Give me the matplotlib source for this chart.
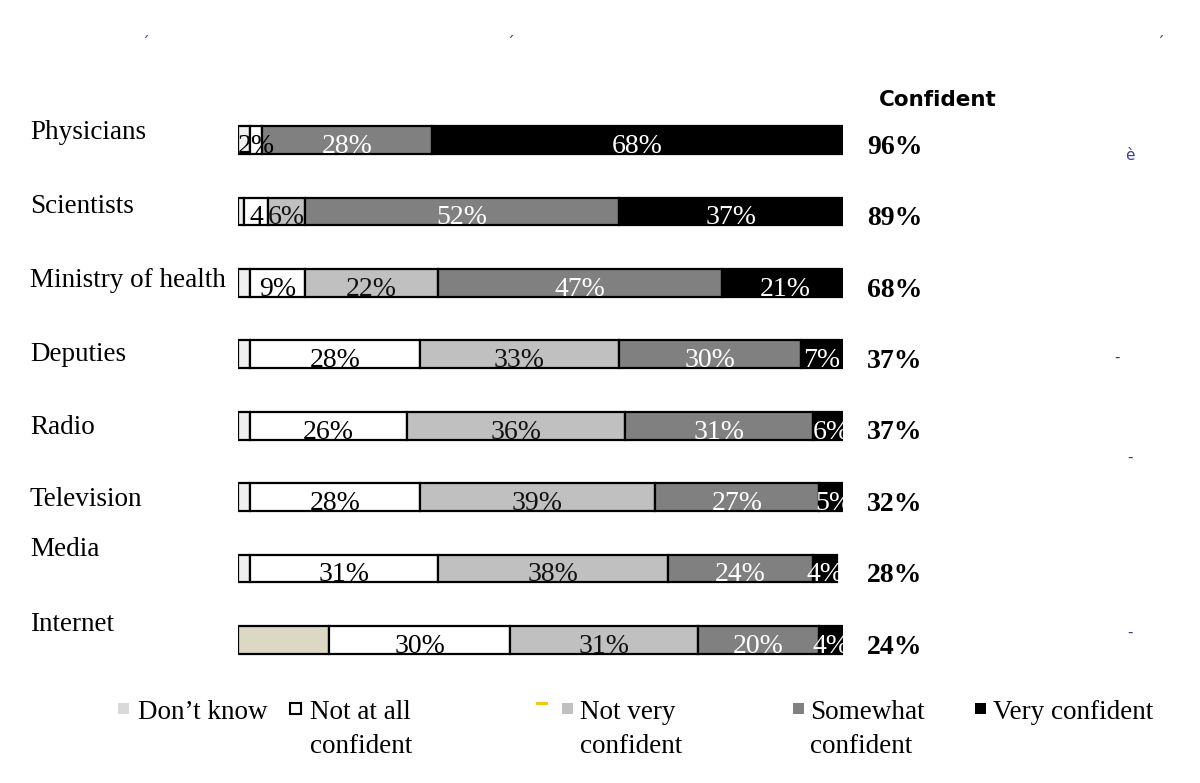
import matplotlib
matplotlib.use("Agg")
import matplotlib.pyplot as plt
from matplotlib.patches import Rectangle
from matplotlib.transforms import blended_transform_factory

categories = ["Physicians", "Scientists", "Ministry of health", "Deputies",
              "Radio", "Television", "Media", "Internet"]
dont_know = [2, 1, 2, 2, 2, 2, 2, 15]
not_at_all = [2, 4, 9, 28, 26, 28, 31, 30]
not_very = [0, 6, 22, 33, 36, 39, 38, 31]
somewhat = [28, 52, 47, 30, 31, 27, 24, 20]
very = [68, 37, 21, 7, 6, 5, 4, 4]
confident = [96, 89, 68, 37, 37, 32, 28, 24]
series_names = ["Don\u2019t know", "Not at all\nconfident", "Not very\nconfident",
                "Somewhat\nconfident", "Very confident"]

# label text for segments (Don't know not labelled)
seg_labels = [[f"{v}%" if v > 0 else "" for v in s] for s in (not_at_all, not_very, somewhat, very)]
seg_labels[0][1] = "4"

fill_colors = ["#efefef", "#ffffff", "#c0c0c0", "#808080", "#000000"]
text_colors = ["#000000", "#111111", "#ffffff", "#ffffff"]
internet_dk_color = "#ddd8c4"

plt.rcParams["font.family"] = ["Liberation Serif", "DejaVu Serif"]
fig = plt.figure(figsize=(12, 7.83), dpi=100)
ax = fig.add_axes([238 / 1200, 1 - 675.7 / 783, 605 / 1200, 571.4 / 783])
ax.set_xlim(0, 100)
ax.set_ylim(7.5, -0.5)
ax.axis("off")

bar_h = 0.39
series = [dont_know, not_at_all, not_very, somewhat, very]
for i, cat in enumerate(categories):
    left = 0
    clip = Rectangle((-5, i - bar_h / 2), 120, bar_h, transform=ax.transData)
    for k, s in enumerate(series):
        v = s[i]
        color = fill_colors[k]
        if k == 0 and cat == "Internet":
            color = internet_dk_color
        if v > 0:
            ax.barh(i, v, left=left, height=bar_h, color=color,
                    edgecolor="black", linewidth=1.6)
            if k > 0:
                lab = seg_labels[k - 1][i]
                if lab:
                    t = ax.text(left + v / 2, i + 0.09, lab, ha="center", va="center",
                                fontsize=20, color=text_colors[k - 1])
                    t.set_clip_path(clip)
        left += v

# category labels
label_dy = [-0.1, -0.07, -0.03, 0.0, 0.03, 0.03, -0.27, -0.22]
tr = blended_transform_factory(fig.transFigure, ax.transData)
for i, cat in enumerate(categories):
    ax.text(30 / 1200, i + label_dy[i], cat, transform=tr, ha="left", va="center",
            fontsize=19.5, color="black")

# confident totals
for i, c in enumerate(confident):
    ax.text(867 / 1200, i + 0.1, f"{c}%", transform=tr, ha="left", va="center",
            fontsize=20, fontweight="bold", color="black")

fig.text(879 / 1200, 1 - 100 / 783, "Confident", family="DejaVu Sans",
         fontweight="bold", fontsize=15.5, ha="left", va="center")

# legend (manual)
leg_marker_x = [118, 290, 562, 793, 975]
leg_text_x = [138, 310, 580, 810, 993]
leg_colors = ["#d9d9d9", "#ffffff", "#c0c0c0", "#808080", "#000000"]
leg_edges = ["none", "black", "none", "none", "none"]
for k, name in enumerate(series_names):
    mx = leg_marker_x[k] / 1200
    my = 1 - 708 / 783
    fig.patches.append(Rectangle((mx, my - 0.5 * 11 / 783), 11 / 1200, 11 / 783,
                                 transform=fig.transFigure, facecolor=leg_colors[k],
                                 edgecolor=leg_edges[k], linewidth=1.5))
    fig.text(leg_text_x[k] / 1200, 1 - 700 / 783, name, ha="left", va="top",
             fontsize=19.5, linespacing=1.45)

# small stray marks in the original scan
fig.patches.append(Rectangle((536 / 1200, 1 - 705 / 783), 12 / 1200, 3 / 783,
                             transform=fig.transFigure, facecolor="#f5c518", edgecolor="none"))
stray_color = "#3a3a9a"
for (x, y, s) in [(145, 30, "\u02CF"), (510, 30, "\u02CF"), (1160, 30, "\u02CF"),
                  (1130, 155, "\u00e8"), (1117, 357, "-"), (1130, 457, "-"), (1130, 632, "-")]:
    fig.text(x / 1200, 1 - y / 783, s, family="DejaVu Sans", fontsize=11,
             color=stray_color, ha="center", va="center")

fig.savefig("out.png", dpi=100, facecolor="white")
